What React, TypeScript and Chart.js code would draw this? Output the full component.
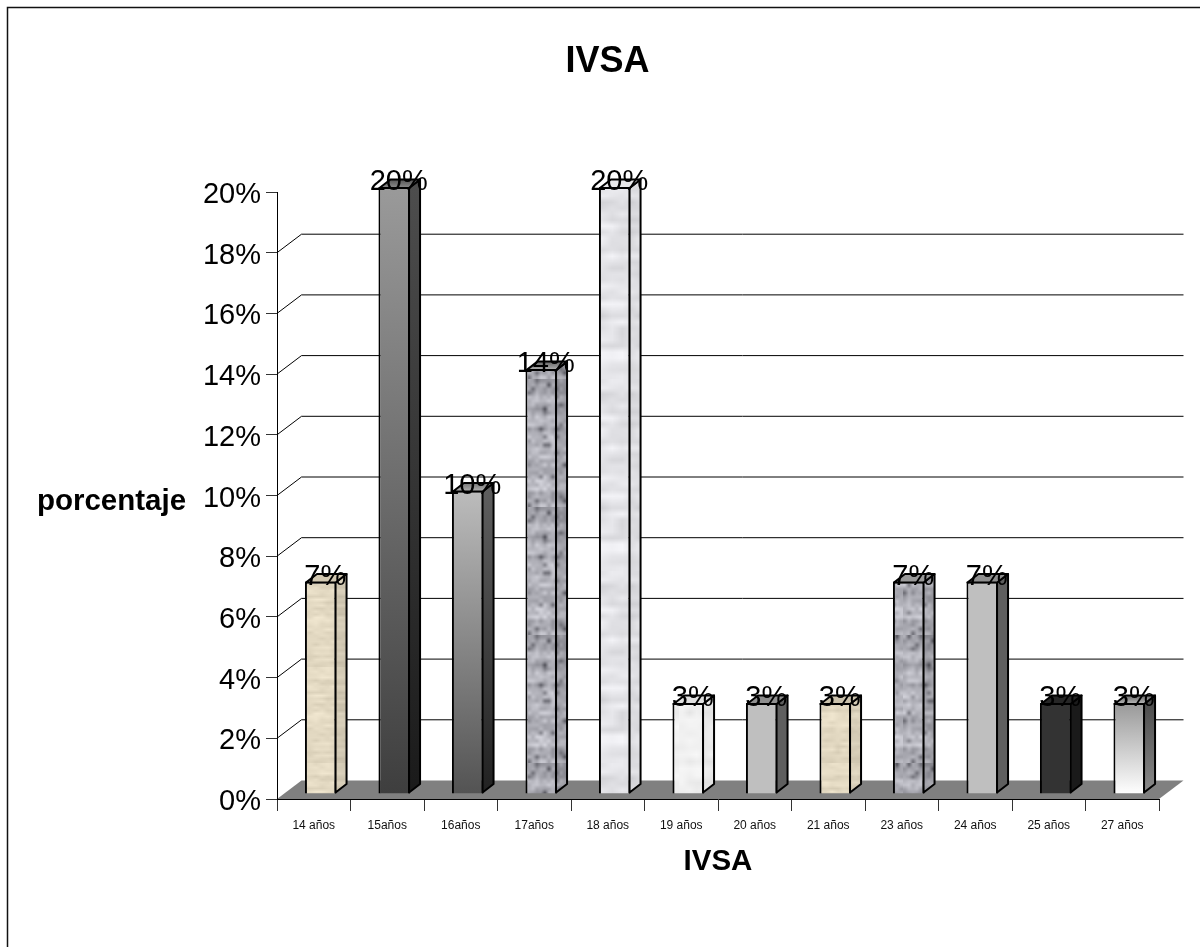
import React, { useEffect, useRef } from "react";
import { Chart, registerables } from "chart.js";

Chart.register(...registerables);

const chartTitle = "IVSA";
const xAxisTitle = "IVSA";
const yAxisTitle = "porcentaje";
const edades = ["14 años", "15años", "16años", "17años", "18 años", "19 años", "20 años", "21 años", "23 años", "24 años", "25 años", "27 años"];
const porcentajes = [7, 20, 10, 14, 20, 3, 3, 3, 7, 7, 3, 3];
const yMax = 20;
const yStep = 2;

const FONT = '"Liberation Sans", Arial, sans-serif';
// Isometric offsets: wall depth and the plane the columns stand on.
const WALL = { dx: 24.5, dy: -18.5 };
const BAR_PLANE = { dx: 7, dy: -5 };
const BAR_DEPTH = { dx: 11, dy: -8.5 };

type Tex = { base: number[]; amp: number; cw: number; ch: number; seed: number; dark?: number };
type Face = { grad?: [string, string]; tex?: Tex; shade?: number; solid?: string };
type BarLook = { front: Face; side: Face; top: Face };

const tan: Tex = { base: [227, 217, 194], amp: 16, cw: 6, ch: 3, seed: 3 };
const granite: Tex = { base: [176, 176, 184], amp: 40, cw: 4, ch: 4, seed: 7, dark: 0.06 };
const marble: Tex = { base: [227, 227, 231], amp: 20, cw: 10, ch: 6, seed: 11 };
const snow: Tex = { base: [241, 241, 241], amp: 14, cw: 7, ch: 7, seed: 17 };

const looks: BarLook[] = [
  { front: { tex: tan }, side: { tex: tan, shade: 0.92 }, top: { solid: "#d2c8b1" } },
  { front: { grad: ["#9a9a9a", "#3e3e3e"] }, side: { grad: ["#4d4d4d", "#1a1a1a"] }, top: { grad: ["#555555", "#8c8c8c"] } },
  { front: { grad: ["#bcbcbc", "#535353"] }, side: { grad: ["#5e5e5e", "#222222"] }, top: { grad: ["#777777", "#b0b0b0"] } },
  { front: { tex: granite }, side: { tex: granite, shade: 0.9 }, top: { grad: ["#666666", "#b0b0b0"] } },
  { front: { tex: marble }, side: { tex: marble, shade: 0.97 }, top: { solid: "#e8e8ea" } },
  { front: { tex: snow }, side: { tex: snow, shade: 0.97 }, top: { solid: "#e0e0e0" } },
  { front: { solid: "#bfbfbf" }, side: { solid: "#5f5f5f" }, top: { solid: "#8f8f8f" } },
  { front: { tex: tan }, side: { tex: tan, shade: 0.95 }, top: { solid: "#cbc2ac" } },
  { front: { tex: granite }, side: { tex: granite, shade: 0.9 }, top: { solid: "#9a9a9a" } },
  { front: { solid: "#bfbfbf" }, side: { solid: "#5f5f5f" }, top: { solid: "#8f8f8f" } },
  { front: { solid: "#333333" }, side: { solid: "#1a1a1a" }, top: { solid: "#262626" } },
  { front: { grad: ["#989898", "#ffffff"] }, side: { grad: ["#4d4d4d", "#8a8a8a"] }, top: { grad: ["#6b6b6b", "#b8b8b8"] } },
];

// Small repeating swatch of soft blocks; the variation comes from a fixed hash.
function hash(a: number, b: number, seed: number) {
  const s = Math.sin(a * 127.1 + b * 311.7 + seed * 74.7) * 43758.5453;
  return s - Math.floor(s);
}

function makeTexture(t: Tex, shade = 1) {
  const cols = 16;
  const rows = 32;
  const small = document.createElement("canvas");
  small.width = cols;
  small.height = rows;
  const g = small.getContext("2d")!;
  for (let j = 0; j < rows; j++) {
    const band = (hash(0, j, t.seed + 5) - 0.5) * t.amp;
    for (let i = 0; i < cols; i++) {
      let d = (hash(i, j, t.seed) - 0.5) * t.amp + band;
      if (t.dark && hash(i, j, t.seed + 9) < t.dark) d -= 60;
      const [r, gg, b] = t.base.map((v) => Math.max(0, Math.min(255, (v + d) * shade)));
      g.fillStyle = `rgb(${r | 0},${gg | 0},${b | 0})`;
      g.fillRect(i, j, 1, 1);
    }
  }
  const c = document.createElement("canvas");
  c.width = cols * t.cw;
  c.height = rows * t.ch;
  const out = c.getContext("2d")!;
  out.imageSmoothingEnabled = true;
  out.drawImage(small, 0, 0, c.width, c.height);
  return c;
}

function faceFill(ctx: CanvasRenderingContext2D, f: Face, y0: number, y1: number) {
  if (f.solid) return f.solid;
  if (f.grad) {
    const g = ctx.createLinearGradient(0, y0, 0, y1);
    g.addColorStop(0, f.grad[0]);
    g.addColorStop(1, f.grad[1]);
    return g;
  }
  return ctx.createPattern(makeTexture(f.tex!, f.shade ?? 1), "repeat")!;
}

const solidCubePlugin = {
  id: "solidCube",
  // Frame, back wall rules and floor sit underneath the axes.
  beforeDraw(chart: any) {
    const { ctx, width, height, chartArea: a, scales } = chart;
    ctx.save();
    ctx.fillStyle = "#ffffff";
    ctx.fillRect(0, 0, width, height);
    ctx.strokeStyle = "#111111";
    ctx.lineWidth = 1.5;
    ctx.beginPath();
    ctx.moveTo(width, 7.5);
    ctx.lineTo(7.5, 7.5);
    ctx.lineTo(7.5, height);
    ctx.stroke();

    ctx.lineWidth = 1;
    ctx.strokeStyle = "#000000";
    for (let v = yStep; v < yMax; v += yStep) {
      const y = scales.y.getPixelForValue(v);
      ctx.beginPath();
      ctx.moveTo(a.left, y);
      ctx.lineTo(a.left + WALL.dx, y + WALL.dy);
      ctx.lineTo(a.right + WALL.dx, y + WALL.dy);
      ctx.stroke();
    }

    ctx.fillStyle = "#808080";
    ctx.beginPath();
    ctx.moveTo(a.left, a.bottom);
    ctx.lineTo(a.right, a.bottom);
    ctx.lineTo(a.right + WALL.dx, a.bottom + WALL.dy);
    ctx.lineTo(a.left + WALL.dx, a.bottom + WALL.dy);
    ctx.closePath();
    ctx.fill();
    ctx.restore();
  },
  beforeDatasetDraw(chart: any) {
    chart.ctx.save();
    chart.ctx.translate(BAR_PLANE.dx, BAR_PLANE.dy);
  },
  afterDatasetDraw(chart: any) {
    chart.ctx.restore();
  },
  // Side and top faces, then the percentage labels above every column.
  afterDatasetsDraw(chart: any) {
    const { ctx } = chart;
    const bars = chart.getDatasetMeta(0).data;
    ctx.save();
    ctx.translate(BAR_PLANE.dx, BAR_PLANE.dy);
    ctx.lineJoin = "round";
    ctx.strokeStyle = "#000000";
    ctx.lineWidth = 2;
    bars.forEach((bar: any, i: number) => {
      const { x, y, base, width } = bar.getProps(["x", "y", "base", "width"], true);
      const r = x + width / 2 - 1;
      const l = x - width / 2 + 1;
      const t = y + 1;
      const b = base - 1;
      ctx.fillStyle = faceFill(ctx, looks[i].side, t, b);
      ctx.beginPath();
      ctx.moveTo(r, t);
      ctx.lineTo(r + BAR_DEPTH.dx, t + BAR_DEPTH.dy);
      ctx.lineTo(r + BAR_DEPTH.dx, b + BAR_DEPTH.dy);
      ctx.lineTo(r, b);
      ctx.closePath();
      ctx.fill();
      ctx.stroke();
      ctx.fillStyle = faceFill(ctx, looks[i].top, t + BAR_DEPTH.dy, t);
      ctx.beginPath();
      ctx.moveTo(l, t);
      ctx.lineTo(l + BAR_DEPTH.dx, t + BAR_DEPTH.dy);
      ctx.lineTo(r + BAR_DEPTH.dx, t + BAR_DEPTH.dy);
      ctx.lineTo(r, t);
      ctx.closePath();
      ctx.fill();
      ctx.stroke();
    });
    ctx.fillStyle = "#000000";
    ctx.font = `29px ${FONT}`;
    ctx.textAlign = "center";
    ctx.textBaseline = "middle";
    bars.forEach((bar: any, i: number) => {
      const { x, y } = bar.getProps(["x", "y"], true);
      ctx.fillText(`${porcentajes[i]}%`, x + 4.5, y - 5);
    });
    ctx.restore();
  },
  // Chart heading and the two axis captions.
  afterDraw(chart: any) {
    const { ctx } = chart;
    ctx.save();
    ctx.fillStyle = "#000000";
    ctx.textBaseline = "middle";
    ctx.textAlign = "center";
    ctx.font = `bold 36px ${FONT}`;
    ctx.fillText(chartTitle, 607.5, 62);
    ctx.font = `bold 29.5px ${FONT}`;
    ctx.fillText(xAxisTitle, 718, 862);
    ctx.fillText(yAxisTitle, 111.5, 502);
    ctx.restore();
  },
};

export default function App() {
  const ref = useRef<HTMLCanvasElement>(null);
  useEffect(() => {
    const chart = new Chart(ref.current!, {
      type: "bar",
      data: {
        labels: edades,
        datasets: [
          {
            data: porcentajes,
            clip: false,
            backgroundColor: (c: any) => {
              const { ctx, scales } = c.chart;
              if (!scales.y) return "#bfbfbf";
              const v = porcentajes[c.dataIndex];
              return faceFill(ctx, looks[c.dataIndex].front, scales.y.getPixelForValue(v), scales.y.getPixelForValue(0));
            },
            borderColor: "#000000",
            borderWidth: 2,
            barPercentage: 0.43,
            categoryPercentage: 1,
          } as any,
        ],
      },
      options: {
        responsive: false,
        animation: false,
        events: [],
        layout: { padding: { top: 192, right: 41, left: 0, bottom: 0 } },
        plugins: { legend: { display: false }, title: { display: false }, tooltip: { enabled: false } },
        scales: {
          x: {
            afterFit: (s: any) => {
              s.height = 148;
            },
            border: { color: "#000000", width: 1 },
            grid: { drawOnChartArea: false, drawTicks: true, tickLength: 12, color: "#333333", offset: true },
            ticks: { color: "#111111", font: { family: FONT, size: 12 }, maxRotation: 0, minRotation: 0, autoSkip: false, padding: 7 },
          },
          y: {
            min: 0,
            max: yMax,
            afterFit: (s: any) => {
              s.width = 277;
            },
            border: { color: "#000000", width: 1 },
            grid: { drawOnChartArea: false, drawTicks: true, tickLength: 11, color: "#333333" },
            ticks: {
              stepSize: yStep,
              color: "#000000",
              font: { family: FONT, size: 29 },
              padding: 5,
              labelOffset: 3,
              callback: (v: any) => `${v}%`,
            },
          },
        },
      },
      plugins: [solidCubePlugin],
    } as any);
    return () => chart.destroy();
  }, []);
  return (
    <canvas
      ref={ref}
      width={1200}
      height={947}
      style={{ position: "absolute", left: 0, top: 0, width: 1200, height: 947, display: "block" }}
    />
  );
}
